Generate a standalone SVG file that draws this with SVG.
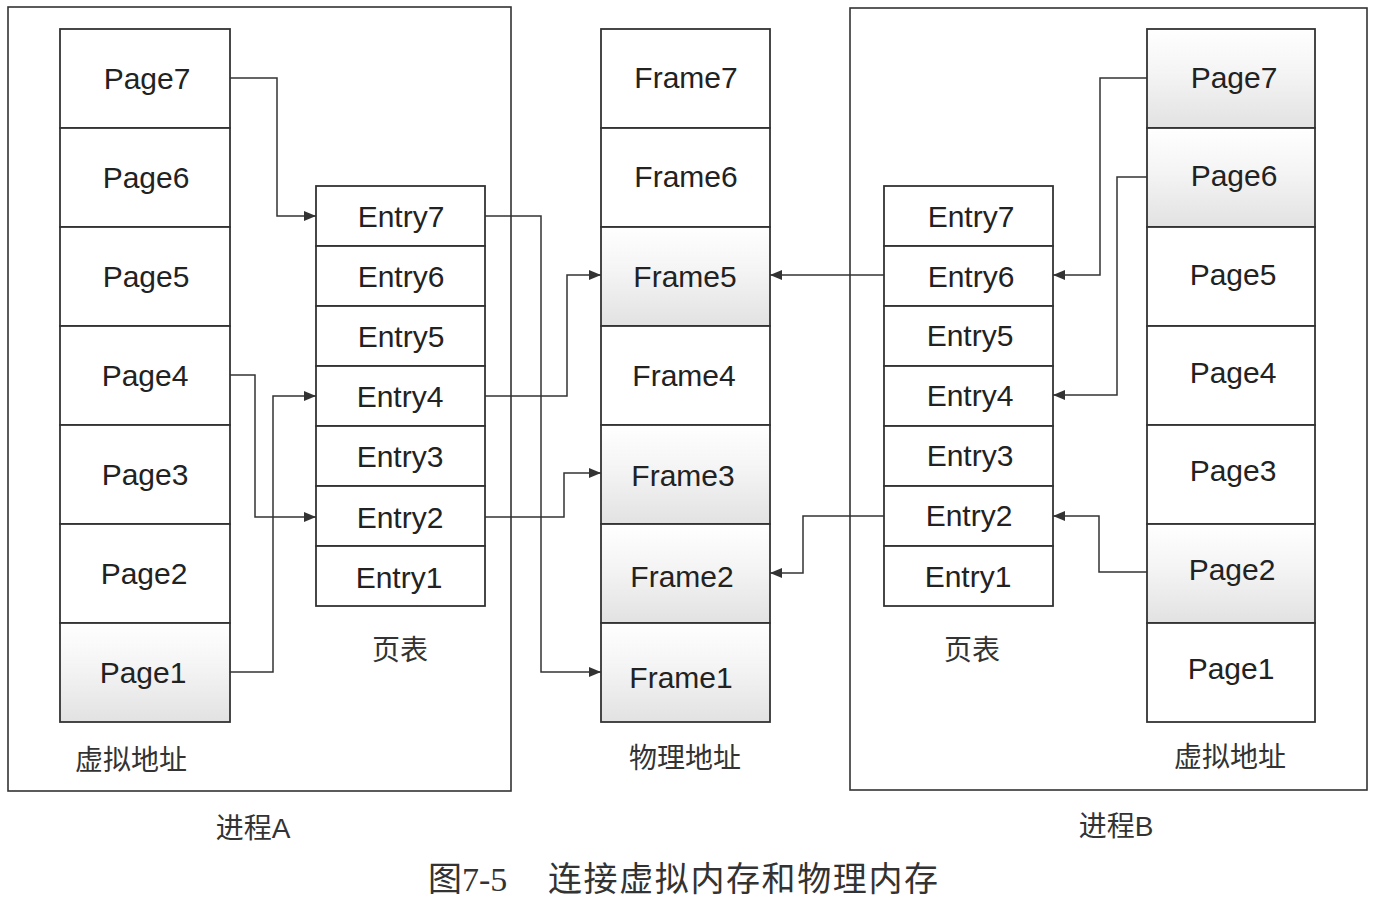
<svg xmlns="http://www.w3.org/2000/svg" width="1383" height="899" viewBox="0 0 1383 899">
<style>
.bg{fill:#ffffff}
.proc{fill:none;stroke:#333;stroke-width:1.6}
.cell{fill:#ffffff;stroke:#333;stroke-width:1.8}
.sh{fill:url(#shade);stroke:#333;stroke-width:1.8}
.lbl{font-family:"Liberation Sans",Arial,sans-serif;font-size:30px;fill:#222;text-anchor:middle}
.cn{font-family:"Noto Sans CJK SC",sans-serif;font-size:28px;fill:#333;text-anchor:middle}
.cap{font-family:"Liberation Sans","Noto Sans CJK SC",sans-serif;font-size:28px;fill:#333;text-anchor:middle}
.title{font-family:"Liberation Serif","Noto Sans CJK SC",serif;font-size:34px;fill:#333}
.conn{fill:none;stroke:#333;stroke-width:1.5}
</style>
<defs>
<linearGradient id="shade" x1="0" y1="0" x2="0" y2="1">
<stop offset="0" stop-color="#ffffff"/>
<stop offset="0.45" stop-color="#f4f4f4"/>
<stop offset="1" stop-color="#e2e2e2"/>
</linearGradient>
<marker id="arr" viewBox="0 0 12 10" refX="12" refY="5" markerWidth="12" markerHeight="10" markerUnits="userSpaceOnUse" orient="auto">
<path d="M0,0 L12,5 L0,10 z" fill="#333"/>
</marker>
</defs>
<rect class="bg" x="0" y="0" width="1383" height="899"/>

<g id="processA">
<rect class="proc" x="8" y="7" width="503" height="784"/>
<text class="cap" x="253" y="838">进程A</text>
</g>
<g id="processB">
<rect class="proc" x="850" y="8" width="517" height="782"/>
<text class="cap" x="1116" y="836">进程B</text>
</g>

<g id="virtA">
<rect class="cell" x="60" y="29" width="170" height="99"/><text class="lbl" x="147" y="89">Page7</text>
<rect class="cell" x="60" y="128" width="170" height="99"/><text class="lbl" x="146" y="188">Page6</text>
<rect class="cell" x="60" y="227" width="170" height="99"/><text class="lbl" x="146" y="287">Page5</text>
<rect class="cell" x="60" y="326" width="170" height="99"/><text class="lbl" x="145" y="386">Page4</text>
<rect class="cell" x="60" y="425" width="170" height="99"/><text class="lbl" x="145" y="485">Page3</text>
<rect class="cell" x="60" y="524" width="170" height="99"/><text class="lbl" x="144" y="584">Page2</text>
<rect class="sh" x="60" y="623" width="170" height="99"/><text class="lbl" x="143" y="683">Page1</text>
<text class="cn" x="131" y="770">虚拟地址</text>
</g>

<g id="tableA">
<rect class="cell" x="316" y="186" width="169" height="60"/><text class="lbl" x="401" y="227">Entry7</text>
<rect class="cell" x="316" y="246" width="169" height="60"/><text class="lbl" x="401" y="287">Entry6</text>
<rect class="cell" x="316" y="306" width="169" height="60"/><text class="lbl" x="401" y="347">Entry5</text>
<rect class="cell" x="316" y="366" width="169" height="60"/><text class="lbl" x="400" y="407">Entry4</text>
<rect class="cell" x="316" y="426" width="169" height="60"/><text class="lbl" x="400" y="467">Entry3</text>
<rect class="cell" x="316" y="486" width="169" height="60"/><text class="lbl" x="400" y="528">Entry2</text>
<rect class="cell" x="316" y="546" width="169" height="60"/><text class="lbl" x="399" y="588">Entry1</text>
<text class="cn" x="400" y="660">页表</text>
</g>

<g id="phys">
<rect class="cell" x="601" y="29" width="169" height="99"/><text class="lbl" x="686" y="88">Frame7</text>
<rect class="cell" x="601" y="128" width="169" height="99"/><text class="lbl" x="686" y="187">Frame6</text>
<rect class="sh" x="601" y="227" width="169" height="99"/><text class="lbl" x="685" y="287">Frame5</text>
<rect class="cell" x="601" y="326" width="169" height="99"/><text class="lbl" x="684" y="386">Frame4</text>
<rect class="sh" x="601" y="425" width="169" height="99"/><text class="lbl" x="683" y="486">Frame3</text>
<rect class="sh" x="601" y="524" width="169" height="99"/><text class="lbl" x="682" y="587">Frame2</text>
<rect class="sh" x="601" y="623" width="169" height="99"/><text class="lbl" x="681" y="688">Frame1</text>
<text class="cn" x="685" y="768">物理地址</text>
</g>

<g id="tableB">
<rect class="cell" x="884" y="186" width="169" height="60"/><text class="lbl" x="971" y="227">Entry7</text>
<rect class="cell" x="884" y="246" width="169" height="60"/><text class="lbl" x="971" y="287">Entry6</text>
<rect class="cell" x="884" y="306" width="169" height="60"/><text class="lbl" x="970" y="346">Entry5</text>
<rect class="cell" x="884" y="366" width="169" height="60"/><text class="lbl" x="970" y="406">Entry4</text>
<rect class="cell" x="884" y="426" width="169" height="60"/><text class="lbl" x="970" y="466">Entry3</text>
<rect class="cell" x="884" y="486" width="169" height="60"/><text class="lbl" x="969" y="526">Entry2</text>
<rect class="cell" x="884" y="546" width="169" height="60"/><text class="lbl" x="968" y="587">Entry1</text>
<text class="cn" x="972" y="660">页表</text>
</g>

<g id="virtB">
<rect class="sh" x="1147" y="29" width="168" height="99"/><text class="lbl" x="1234" y="88">Page7</text>
<rect class="sh" x="1147" y="128" width="168" height="99"/><text class="lbl" x="1234" y="186">Page6</text>
<rect class="cell" x="1147" y="227" width="168" height="99"/><text class="lbl" x="1233" y="285">Page5</text>
<rect class="cell" x="1147" y="326" width="168" height="99"/><text class="lbl" x="1233" y="383">Page4</text>
<rect class="cell" x="1147" y="425" width="168" height="99"/><text class="lbl" x="1233" y="481">Page3</text>
<rect class="sh" x="1147" y="524" width="168" height="99"/><text class="lbl" x="1232" y="580">Page2</text>
<rect class="cell" x="1147" y="623" width="168" height="99"/><text class="lbl" x="1231" y="679">Page1</text>
<text class="cn" x="1230" y="767">虚拟地址</text>
</g>

<g id="connectors">
<path class="conn" marker-end="url(#arr)" d="M230,78 H277 V216 H316"/>
<path class="conn" marker-end="url(#arr)" d="M230,375 H255 V517 H316"/>
<path class="conn" marker-end="url(#arr)" d="M230,672 H273 V396 H316"/>
<path class="conn" marker-end="url(#arr)" d="M485,216 H541 V672 H601"/>
<path class="conn" marker-end="url(#arr)" d="M485,396 H567 V275 H601"/>
<path class="conn" marker-end="url(#arr)" d="M485,517 H564 V473 H601"/>
<path class="conn" marker-end="url(#arr)" d="M884,275 H770"/>
<path class="conn" marker-end="url(#arr)" d="M884,516 H803 V573 H770"/>
<path class="conn" marker-end="url(#arr)" d="M1147,78 H1100 V275 H1053"/>
<path class="conn" marker-end="url(#arr)" d="M1147,177 H1117 V395 H1053"/>
<path class="conn" marker-end="url(#arr)" d="M1147,572 H1099 V516 H1053"/>
</g>

<g id="caption">
<text class="title" x="428" y="891">图7-5</text>
<text class="title" x="548" y="891" textLength="390">连接虚拟内存和物理内存</text>
</g>
</svg>
